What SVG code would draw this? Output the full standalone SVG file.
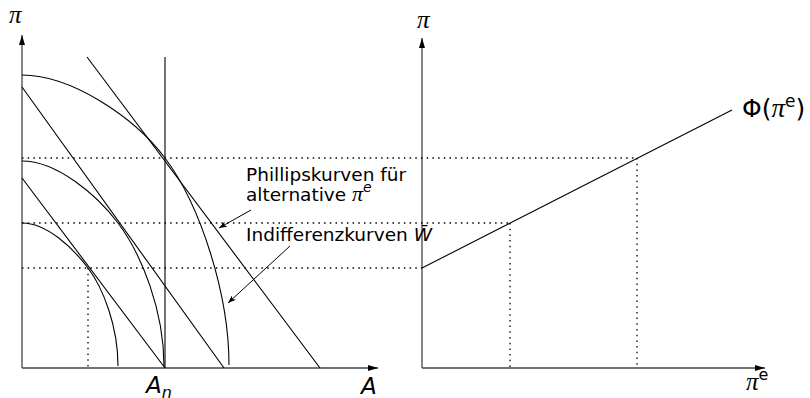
<svg xmlns="http://www.w3.org/2000/svg" width="810" height="398" viewBox="0 0 810 398">
<defs>
<marker id="ax" viewBox="0 0 10 6" refX="10" refY="3" markerWidth="10" markerHeight="6" markerUnits="userSpaceOnUse" orient="auto"><path d="M0,0 L10,3 L0,6 z" fill="#000"/></marker>
<marker id="ar" viewBox="0 0 8 6" refX="8" refY="3" markerWidth="8" markerHeight="6" markerUnits="userSpaceOnUse" orient="auto"><path d="M0,0 L8,3 L0,6 L2,3 z" fill="#000"/></marker>
</defs>
<style>
.axis{stroke:#444;stroke-width:1.3;fill:none}
.curve{stroke:#000;stroke-width:1.1;fill:none}
.dot{stroke:#000;stroke-width:1.3;stroke-dasharray:1.5 4.2;fill:none}
.lead{stroke:#000;stroke-width:1;fill:none}
.lbl{font-family:"DejaVu Sans",sans-serif;font-size:18.5px;fill:#000}
.math{font-family:"Liberation Serif",serif;font-style:italic}
.sym{font-family:"Liberation Serif",serif;font-style:italic;font-size:25px;fill:#000}
.big{font-family:"DejaVu Sans",sans-serif;font-size:25px;fill:#000}
.ax{font-family:"DejaVu Sans",sans-serif;font-style:italic;font-size:23px;fill:#000}
</style>
<rect width="810" height="398" fill="#fff"/>
<g id="axes">
<path class="axis" d="M22,368 V35" marker-end="url(#ax)"/>
<path class="axis" d="M22,368 H378" marker-end="url(#ax)"/>
<path class="axis" d="M422,368 V38" marker-end="url(#ax)"/>
<path class="axis" d="M422,368 H765" marker-end="url(#ax)"/>
</g>
<g id="guides">
<path class="dot" d="M22,158 H637 M22,223 H510 M22,268 H422 M88,268 V368 M510,223 V368 M637,158 V368"/>
</g>
<g id="curves">
<path class="curve" d="M165,57 V368"/>
<path class="curve" d="M22,178 L165,368 M22,87 L224,368 M87,57 L320,368"/>
<path class="curve" d="M22,75 C72,75 135,118 165,158 C201,206 229,295 229,365"/>
<path class="curve" d="M22,161 C57,161 97,195 118,223 C142,255 164,311 164,366"/>
<path class="curve" d="M22,223 C47,223 73,248 88,268 C103,288 118,326 118,366"/>
<path class="curve" d="M422,268 L732,110"/>
</g>
<g id="connectors">
<path class="lead" d="M251,210 L219,228" marker-end="url(#ar)"/>
<path class="lead" d="M290,246 L228,303" marker-end="url(#ar)"/>
</g>
<g id="labels">
<text class="sym" x="9" y="23">π</text>
<text class="sym" x="417" y="28">π</text>
<text class="lbl" x="246" y="181">Phillipskurven für</text>
<text class="lbl" x="246" y="201">alternative <tspan class="math" style="font-size:22px">π</tspan><tspan style="font-style:italic;font-size:14px" dy="-9">e</tspan></text>
<text class="lbl" x="246" y="241">Indifferenzkurven <tspan style="font-style:italic">W̄</tspan></text>
<text class="big" x="742" y="117">Φ(<tspan class="math" style="font-size:27px">π</tspan><tspan style="font-size:17px" dy="-10">e</tspan><tspan dy="10">)</tspan></text>
<text class="big" x="746" y="390"><tspan class="math">π</tspan><tspan style="font-size:16px" dy="-10">e</tspan></text>
<text class="ax" x="361" y="394">A</text>
<text class="ax" x="146" y="393">A<tspan style="font-size:16px" dy="5">n</tspan></text>
</g>
</svg>
